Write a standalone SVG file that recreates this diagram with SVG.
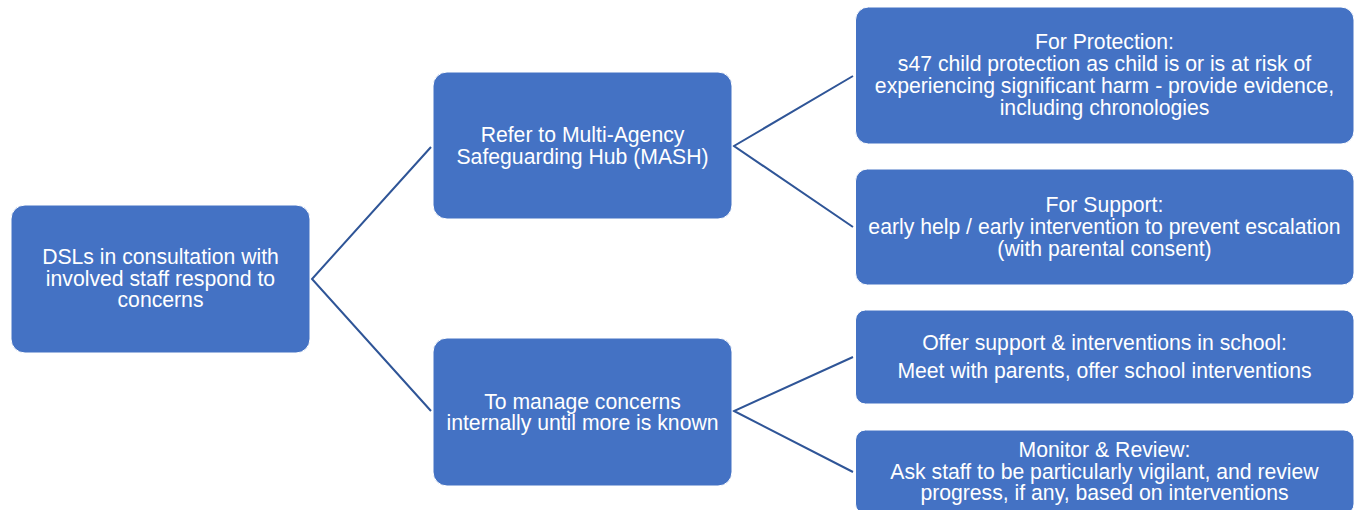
<svg xmlns="http://www.w3.org/2000/svg" width="1356" height="510" viewBox="0 0 1356 510">
<style>
.box{fill:#4472C4;stroke:#ffffff;stroke-width:1}
.t{font-family:"Liberation Sans",Arial,sans-serif;font-size:21.2px;fill:#ffffff;text-anchor:middle}
.c{fill:none;stroke:#2F5597;stroke-width:2}
</style>
<rect width="1356" height="510" fill="#ffffff"/>
<g id="connectors">
<polyline class="c" points="431,147 312,279 431,411"/>
<polyline class="c" points="853,76 734,146 853,227"/>
<polyline class="c" points="853,357 734,411 853,472"/>
</g>
<g id="root">
<rect class="box" x="11" y="205" width="299" height="148" rx="14"/>
<text class="t" x="160.5" y="264">DSLs in consultation with</text>
<text class="t" x="160.5" y="285.5">involved staff respond to</text>
<text class="t" x="160.5" y="307">concerns</text>
</g>
<g id="mash">
<rect class="box" x="433" y="72" width="299" height="147" rx="14"/>
<text class="t" x="582.5" y="142">Refer to Multi-Agency</text>
<text class="t" x="582.5" y="164">Safeguarding Hub (MASH)</text>
</g>
<g id="internal">
<rect class="box" x="433" y="338" width="299" height="148" rx="14"/>
<text class="t" x="582.5" y="408.5">To manage concerns</text>
<text class="t" x="582.5" y="430">internally until more is known</text>
</g>
<g id="protection">
<rect class="box" x="855.5" y="7" width="498.5" height="137" rx="13"/>
<text class="t" x="1104.5" y="48.5">For Protection:</text>
<text class="t" x="1104.5" y="70.5">s47 child protection as child is or is at risk of</text>
<text class="t" x="1104.5" y="92.5">experiencing significant harm - provide evidence,</text>
<text class="t" x="1104.5" y="114.5">including chronologies</text>
</g>
<g id="support">
<rect class="box" x="855.5" y="169" width="498.5" height="116" rx="12"/>
<text class="t" x="1104.5" y="212">For Support:</text>
<text class="t" x="1104.5" y="234">early help / early intervention to prevent escalation</text>
<text class="t" x="1104.5" y="255.5">(with parental consent)</text>
</g>
<g id="school">
<rect class="box" x="855.5" y="310" width="498.5" height="94" rx="10"/>
<text class="t" x="1104.5" y="349.5">Offer support &amp; interventions in school:</text>
<text class="t" x="1104.5" y="378">Meet with parents, offer school interventions</text>
</g>
<g id="monitor">
<rect class="box" x="855.5" y="430" width="498.5" height="84" rx="10"/>
<text class="t" x="1104.5" y="457">Monitor &amp; Review:</text>
<text class="t" x="1104.5" y="478.5">Ask staff to be particularly vigilant, and review</text>
<text class="t" x="1104.5" y="500">progress, if any, based on interventions</text>
</g>
</svg>
